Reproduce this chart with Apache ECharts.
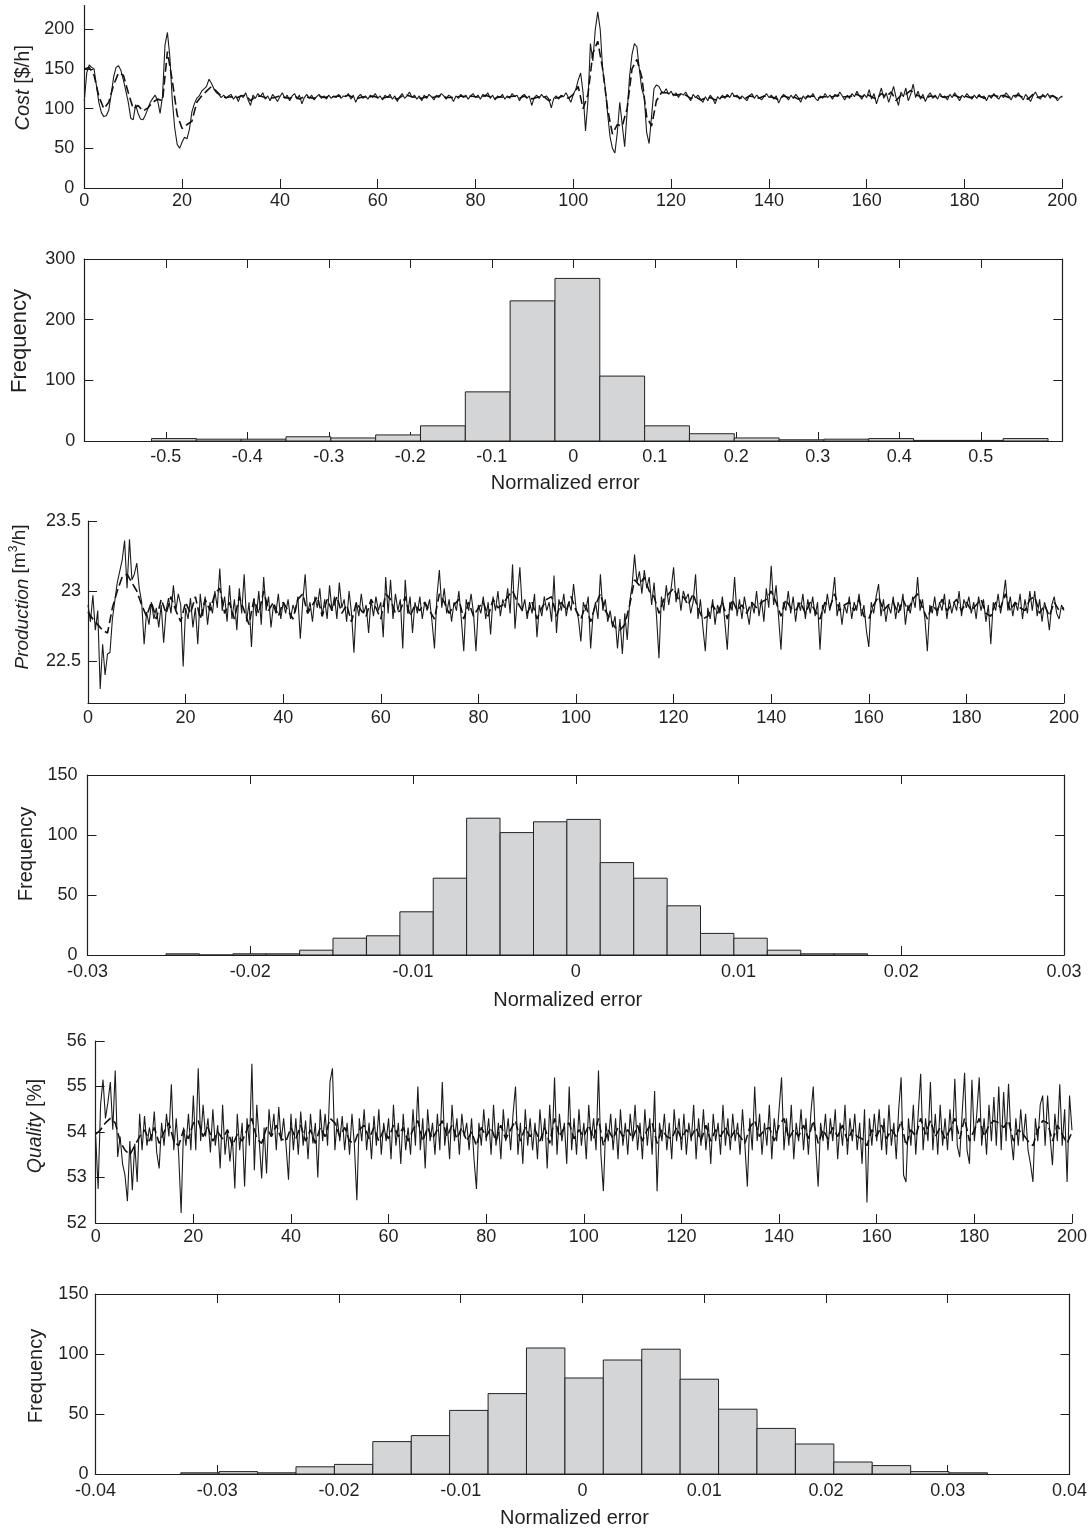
<!DOCTYPE html>
<html>
<head>
<meta charset="utf-8">
<script src="https://cdn.jsdelivr.net/npm/echarts@6/dist/echarts.min.js"></script>
<style>
html,body{margin:0;padding:0;background:#fff;}
#chart{width:1090px;height:1532px;}
</style>
</head>
<body>
<div id="chart"></div>
<script>
// ---------- time axis ----------
const timeTicks = [0, 20, 40, 60, 80, 100, 120, 140, 160, 180, 200];
const actualStep = 0.5;     // time step of measured series
const predictedStep = 1;    // time step of predicted (dashed) series

// ---------- Cost [$/h] ----------
const costActual = [
110,145,155,152,150,128,107,95,90,91,98,118,140,152,154,148,136,122,108,88,
86,105,94,87,86,92,100,108,113,117,110,94,116,180,196,165,110,75,55,50,
58,64,62,74,96,106,113,116,122,125,128,137,132,125,120,118,114,117,113,116,
118,112,116,109,117,114,120,111,104,117,113,119,115,120,112,116,110,118,114,109,
115,120,113,117,110,116,119,112,117,106,114,118,113,117,111,115,118,113,116,112,
117,113,116,114,118,113,116,115,119,112,117,108,115,118,113,116,112,117,114,119,
113,116,111,117,114,118,112,116,109,115,119,113,116,121,114,117,112,116,110,117,
113,118,115,111,117,114,119,116,112,117,115,109,116,113,118,114,117,112,116,119,
114,117,112,118,115,120,113,117,111,116,114,118,112,116,113,119,115,117,110,116,
118,113,116,104,114,117,113,118,114,116,112,101,113,116,112,117,115,120,114,108,
118,124,136,145,120,72,110,182,160,200,222,200,150,128,95,65,50,44,70,108,
80,52,95,140,168,182,178,150,125,115,70,56,90,125,130,128,122,120,125,118,
122,116,120,114,119,117,121,115,110,118,114,117,112,108,115,110,117,113,106,115,
112,117,113,118,114,120,115,117,112,116,113,110,116,119,113,117,114,111,115,119,
114,117,112,116,107,114,118,115,111,117,113,118,114,108,116,112,117,114,119,113,
110,116,113,119,114,117,112,118,115,121,116,111,117,113,119,115,122,116,112,118,
114,124,112,119,106,116,126,113,120,108,118,128,114,104,121,115,126,110,118,131,
114,122,112,118,109,116,120,113,117,112,119,114,116,111,118,114,120,115,110,117,
114,119,115,112,117,113,118,114,116,110,117,113,119,115,112,117,114,120,116,111,
117,114,120,115,111,118,114,109,116,121,115,112,118,114,119,113,117,115,110,114,116
];
const costPredicted = [
150,152,142,115,100,108,130,145,142,120,
100,104,97,101,108,112,110,172,135,92,
75,80,84,108,116,122,128,122,116,114,
115,113,116,117,110,115,116,114,113,114,
116,114,113,116,112,115,114,113,116,114,
115,115,116,115,117,114,113,115,114,116,
114,113,115,114,112,116,117,115,114,113,
115,114,115,117,114,114,114,116,115,116,
115,114,117,115,113,115,114,115,116,113,
116,112,113,115,115,110,113,114,116,113,
118,128,100,118,170,185,150,100,68,80,
78,100,150,162,140,90,78,110,120,120,
119,117,118,117,113,115,111,113,114,111,
114,115,116,116,114,112,116,115,113,116,
115,114,111,116,114,115,112,114,115,116,
113,115,115,115,117,115,115,116,118,115,
118,115,112,119,115,121,110,117,118,123,
118,115,113,116,115,116,114,116,117,114,
116,114,115,116,113,115,117,115,117,114,
116,117,114,112,118,114,116,116,116,113,115
];
const costTicks = [0, 50, 100, 150, 200];

// ---------- Cost normalized-error histogram ----------
const costErrCenters = [-0.49,-0.435,-0.38,-0.325,-0.27,-0.215,-0.16,-0.105,-0.05,0.005,0.06,0.115,0.17,0.225,0.28,0.335,0.39,0.445,0.5,0.555];
const costErrBinWidth = 0.055;
const costErrCounts = [4,3,3,7,5,10,25,81,231,268,107,25,12,5,2,3,4,1,1,4];

// ---------- Production [m3/h] ----------
const prodActual = [
22.90,22.78,22.97,22.72,22.86,22.30,22.62,22.40,22.55,22.56,22.80,22.93,23.06,23.14,23.22,23.36,23.02,23.37,23.08,23.12,
23.20,23.02,22.92,22.62,22.85,22.76,22.92,22.80,22.88,22.74,22.90,22.63,22.86,22.95,22.84,23.04,22.86,22.98,22.90,22.46,
22.88,22.80,22.95,22.74,22.88,22.62,22.98,22.82,22.96,22.76,22.92,22.84,23.00,22.88,23.16,22.86,22.96,22.78,23.04,22.80,
22.94,22.72,23.02,22.84,23.12,22.78,22.92,22.60,22.95,22.82,23.00,22.76,23.10,22.86,22.96,22.74,22.90,22.84,22.98,22.80,
22.92,22.84,22.94,22.80,22.90,22.85,22.96,22.66,22.92,23.12,22.84,22.92,22.78,22.96,22.88,23.02,22.82,22.94,22.80,23.04,
22.86,22.96,22.80,23.06,22.88,22.94,22.78,23.00,22.84,22.56,22.92,22.82,22.98,22.84,22.90,22.70,22.94,22.82,22.96,22.86,
22.92,22.67,23.10,22.84,23.08,22.80,22.98,22.86,22.94,22.59,23.08,22.84,22.96,22.70,22.92,22.84,22.96,22.80,22.92,22.86,
22.94,22.78,22.59,22.96,23.15,22.88,23.02,22.84,22.94,22.78,22.92,22.86,23.00,22.80,22.57,22.94,22.86,22.98,22.84,22.57,
22.90,22.84,22.96,22.80,22.92,22.69,22.96,22.86,23.00,22.82,22.94,22.88,23.02,22.84,23.19,22.73,22.96,23.17,22.86,22.94,
22.80,22.92,22.84,22.98,22.67,22.90,22.82,22.96,22.86,22.92,22.78,23.11,22.70,22.94,22.86,22.98,22.82,22.92,22.86,23.05,
22.88,22.80,22.64,22.92,22.86,22.96,22.59,22.84,22.92,22.80,23.12,22.86,22.94,22.78,22.86,22.74,22.82,22.59,22.80,22.55,
22.84,22.65,22.92,23.04,23.26,23.06,23.14,22.98,23.15,23.02,23.10,22.90,23.06,22.82,22.52,22.96,22.86,23.04,22.90,23.02,
23.17,22.92,23.02,22.86,23.00,22.94,22.98,22.84,22.92,23.12,22.80,22.94,22.74,22.57,22.88,22.80,22.94,22.76,22.90,22.84,
22.96,22.78,22.58,22.92,22.86,23.10,22.82,22.94,22.80,22.96,22.86,22.76,22.92,22.84,23.00,22.82,22.94,22.78,23.02,22.88,
23.18,22.90,23.04,22.82,22.58,22.92,22.86,23.00,22.84,22.96,22.78,22.92,22.86,22.98,22.80,22.94,22.84,22.96,22.82,22.92,
22.58,22.90,22.84,22.98,22.86,22.94,23.10,22.82,22.92,22.76,22.90,22.84,22.96,22.80,22.92,22.86,22.98,22.82,22.90,22.72,
22.60,22.92,22.84,22.96,23.05,22.82,22.94,22.78,22.90,22.84,22.96,22.80,22.92,22.86,22.98,22.76,22.90,22.84,22.96,22.88,
23.10,22.86,22.94,22.80,22.57,22.90,22.84,22.96,22.82,22.92,22.86,22.98,22.80,22.94,22.84,22.92,22.86,23.00,22.82,22.94,
22.88,22.96,22.84,22.92,22.80,22.96,22.86,22.94,22.78,22.90,22.62,22.92,22.86,22.98,22.84,22.94,23.08,22.86,22.96,22.82,
22.92,22.86,22.98,22.80,22.94,22.84,23.00,22.86,23.00,22.82,22.94,22.78,22.92,22.86,22.72,22.90,22.96,22.84,22.80,22.90,22.86
];
const prodPredicted = [
22.85,22.80,22.76,22.72,22.70,22.88,23.00,23.10,23.12,23.06,
23.00,22.90,22.82,22.92,22.80,22.94,22.84,22.96,22.86,22.78,
22.92,22.84,22.96,22.80,22.94,22.86,22.98,23.02,22.84,22.92,
22.80,22.96,22.86,22.76,22.94,22.84,23.00,22.86,22.92,22.82,
22.92,22.86,22.80,22.94,22.98,22.84,22.90,22.96,22.82,22.94,
22.86,22.96,22.84,22.90,22.78,22.92,22.86,22.82,22.94,22.88,
22.80,22.98,22.94,22.84,22.86,22.96,22.82,22.90,22.86,22.92,
22.86,22.80,22.98,22.92,22.84,22.90,22.94,22.80,22.92,22.82,
22.88,22.92,22.82,22.94,22.88,22.90,22.96,23.00,22.92,22.86,
22.84,22.92,22.80,22.88,22.94,22.96,22.82,22.92,22.86,22.96,
22.86,22.80,22.90,22.78,22.90,22.98,22.86,22.80,22.74,22.72,
22.76,22.90,23.08,23.04,23.10,23.00,22.96,22.84,22.94,22.98,
23.02,22.94,22.96,22.90,22.98,22.88,22.80,22.82,22.90,22.84,
22.92,22.80,22.94,22.86,22.90,22.84,22.92,22.88,22.92,22.94,
23.00,22.92,22.82,22.94,22.88,22.86,22.92,22.84,22.92,22.86,
22.80,22.92,22.88,22.98,22.86,22.90,22.92,22.86,22.94,22.82,
22.80,22.90,22.96,22.86,22.90,22.92,22.84,22.94,22.86,22.94,
22.98,22.88,22.80,22.90,22.86,22.94,22.86,22.90,22.94,22.86,
22.92,22.86,22.90,22.94,22.84,22.82,22.92,22.88,22.98,22.86,
22.92,22.88,22.86,22.94,22.96,22.84,22.90,22.82,22.92,22.86,22.88
];
const prodTicks = [22.5, 23, 23.5];

// ---------- Production normalized-error histogram ----------
const prodErrCenters = [-0.02415,-0.0221,-0.02004,-0.01799,-0.01594,-0.01389,-0.01183,-0.00978,-0.00773,-0.00568,-0.00362,-0.00157,0.00048,0.00253,0.00459,0.00664,0.00869,0.01074,0.0128,0.01485,0.0169];
const prodErrBinWidth = 0.002052;
const prodErrCounts = [1,0,1,1,4,14,16,36,64,114,102,111,113,77,64,41,18,14,4,1,1];

// ---------- Quality [%] ----------
const qualActual = [
53.90,52.75,54.60,55.15,54.30,54.65,55.10,54.05,55.35,53.45,53.90,53.30,53.05,52.48,53.80,52.72,53.74,52.90,54.40,53.60,
54.35,53.70,54.10,53.80,54.45,53.55,53.20,54.20,53.70,54.40,53.90,55.05,53.60,54.30,53.50,52.22,54.10,53.70,54.40,53.60,
54.80,53.60,55.40,53.80,54.60,53.90,54.30,53.55,54.50,53.70,54.15,53.20,54.60,53.50,54.05,53.35,53.90,52.76,54.40,53.60,
54.20,52.80,54.30,53.70,55.50,53.16,54.60,53.80,52.98,54.10,53.09,54.50,53.90,54.40,53.60,54.55,53.80,54.30,53.70,52.95,
54.40,53.60,54.30,53.50,54.45,53.70,54.25,53.40,54.40,53.75,54.20,53.00,54.50,53.80,54.40,53.70,55.10,55.40,53.60,54.30,
53.80,54.35,53.60,54.20,53.50,54.40,53.70,52.50,54.30,53.80,54.50,53.60,54.20,53.40,54.35,53.70,54.50,53.50,54.20,53.80,
54.30,53.40,54.60,53.70,54.20,53.30,54.40,53.60,54.10,53.50,54.50,53.70,55.00,53.60,54.30,53.20,54.50,53.80,54.20,53.50,
54.40,53.60,55.10,53.70,54.20,53.40,54.60,53.80,54.30,53.50,54.40,53.90,54.20,53.60,54.30,53.40,52.75,54.20,53.70,54.50,
53.80,54.30,53.50,54.60,53.70,54.20,53.40,54.50,53.80,54.30,53.60,54.40,55.00,53.50,54.20,53.30,54.50,53.70,54.30,53.60,
54.20,53.40,54.50,53.80,54.30,53.20,54.60,53.70,55.20,53.50,54.40,53.80,54.20,53.30,55.00,53.60,54.30,53.50,54.50,53.70,
54.20,53.40,54.60,53.80,54.30,53.60,55.35,53.50,52.70,54.20,53.80,54.40,53.60,54.30,53.40,54.50,53.70,54.20,53.50,54.40,
53.80,54.60,53.60,54.20,53.40,54.50,53.70,54.30,53.50,54.90,52.70,54.20,53.80,54.40,53.60,54.20,53.40,54.50,53.80,54.30,
53.60,54.40,53.50,54.20,53.80,54.60,53.40,54.30,53.70,54.50,53.60,54.20,53.30,54.40,53.80,54.20,53.50,54.60,53.70,54.30,
53.60,54.40,53.80,54.20,53.50,54.50,53.70,52.80,54.30,53.60,55.00,53.80,54.40,53.50,54.20,53.70,54.60,53.40,54.30,53.80,
54.50,55.20,53.60,54.30,53.70,54.60,53.40,54.20,53.80,54.50,53.60,54.30,53.50,54.40,55.00,53.70,52.80,54.20,53.80,54.40,
53.60,54.30,53.80,54.50,53.40,54.20,53.70,54.60,53.50,54.30,53.80,54.40,53.60,54.20,53.30,54.50,52.45,54.30,53.70,54.40,
53.80,54.50,53.60,54.30,53.50,54.60,53.70,54.20,53.40,54.50,55.20,53.05,52.90,54.30,53.70,54.60,53.50,54.40,55.28,53.60,
54.30,53.80,55.10,53.60,54.40,53.50,54.60,53.70,54.30,53.60,54.50,53.80,55.17,53.70,53.45,54.40,55.30,53.60,53.30,55.15,
53.80,54.40,55.20,53.70,54.30,53.50,54.60,53.80,54.77,53.70,55.00,53.60,54.88,53.80,55.06,53.90,53.38,54.30,53.70,54.50,
53.80,54.40,53.60,53.30,52.90,54.30,53.80,54.60,54.80,53.70,54.80,53.90,53.27,54.40,53.80,55.05,53.70,54.50,52.90,54.80,54.04
];
const qualPredicted = [
53.95,54.05,54.20,54.30,54.20,53.80,53.60,53.50,53.70,53.90,
54.05,53.80,54.10,53.75,54.00,54.20,53.80,53.70,54.05,53.85,
54.20,54.25,53.90,54.10,53.80,54.00,53.85,54.05,53.70,53.95,
53.80,54.05,54.30,53.85,53.75,54.10,53.90,54.15,53.85,53.80,
54.10,53.85,54.15,53.80,54.05,53.75,54.10,53.90,54.30,54.20,
53.90,54.10,53.80,53.75,54.05,54.15,53.85,54.10,53.80,54.05,
53.85,54.15,53.90,54.10,53.80,54.05,54.25,53.80,54.10,53.85,
54.05,54.25,53.90,54.15,53.85,54.10,53.80,54.00,53.70,54.10,
53.90,54.10,53.80,54.15,53.85,54.05,54.25,53.80,54.10,53.90,
54.05,53.80,54.10,53.75,54.30,53.90,54.10,54.20,53.85,54.05,
53.90,54.15,53.85,54.30,53.70,54.05,53.85,54.10,53.90,54.05,
53.85,54.15,53.80,54.05,54.20,53.75,54.05,53.90,53.85,54.10,
53.85,54.05,53.90,54.10,53.80,54.15,53.80,54.05,53.90,54.10,
53.85,54.05,53.90,53.75,54.10,54.25,53.90,54.05,54.10,53.80,
54.15,54.30,53.85,54.05,53.90,54.15,53.85,54.25,53.75,54.05,
53.85,54.10,53.90,54.15,53.80,54.05,53.90,53.85,53.70,54.05,
53.90,54.15,53.85,54.05,53.90,54.25,53.70,54.05,53.90,54.30,
53.95,54.25,53.90,54.10,53.85,54.05,54.30,53.85,54.30,53.80,
54.05,54.30,53.90,54.15,54.25,54.20,54.10,54.25,53.80,54.05,
53.95,53.80,53.70,54.05,54.25,54.20,53.80,54.15,53.95,53.75,54.00
];
const qualTicks = [52, 53, 54, 55, 56];

// ---------- Quality normalized-error histogram ----------
const qualErrCenters = [-0.03141,-0.02826,-0.0251,-0.02195,-0.01879,-0.01564,-0.01248,-0.00933,-0.00617,-0.00302,0.00014,0.00329,0.00645,0.0096,0.01276,0.01591,0.01907,0.02222,0.02538,0.02853,0.03169];
const qualErrBinWidth = 0.003155;
const qualErrCounts = [1,2,1,6,8,27,32,53,67,105,80,95,104,79,54,38,25,10,7,2,1];

// ================= chart =================
const FONT = '"Liberation Sans", Arial, Helvetica, sans-serif';
const INK = '#231f20';
const AXIS = '#1e1e1e';
const TICK_FONT = 18;

function toPairs(values, step) {
  return values.map(function (v, i) { return [Math.round(i * step * 100) / 100, v]; });
}

function axisCommon(extra) {
  return Object.assign({
    type: 'value',
    splitLine: { show: false },
    axisLine: { show: true, onZero: false, lineStyle: { color: AXIS, width: 1.2 } },
    axisTick: { show: true, inside: true, length: 9, lineStyle: { color: AXIS, width: 1 } },
  }, extra);
}

function labelStyle(margin, formatter) {
  const o = { show: true, color: INK, fontSize: TICK_FONT, fontFamily: FONT, margin: margin,
              showMinLabel: true, showMaxLabel: true };
  if (formatter) o.formatter = formatter;
  return o;
}

function yName(text, size, gap, shiftUp, rich) {
  return {
    name: text, nameLocation: 'middle', nameRotate: 90, nameGap: gap,
    nameTextStyle: {
      color: INK, fontSize: size, fontFamily: FONT,
      padding: [0, 0, 0, shiftUp * 2],
      rich: rich || {}
    }
  };
}

function xName(gap) {
  return {
    name: 'Normalized error', nameLocation: 'middle', nameGap: gap,
    nameTextStyle: { color: INK, fontSize: 20, fontFamily: FONT, padding: [0, 16, 0, 0] }
  };
}

const fmt1 = function (v) { const r = Math.round(v * 1000) / 1000; return Math.abs(r) > 0.55 ? '' : String(r); };
const fmt2 = function (v) { return String(Math.round(v * 1000) / 1000); };

const grids = [
  { left: 84.3, top: 5.5, width: 978, height: 182.5 },
  { left: 84.3, top: 259, width: 978, height: 182 },
  { left: 87, top: 521, width: 977, height: 182 },
  { left: 87.5, top: 775, width: 976.5, height: 180 },
  { left: 95.7, top: 1041, width: 977.6, height: 182 },
  { left: 95.4, top: 1294, width: 978.3, height: 180 }
];

const xAxes = [
  axisCommon({ gridIndex: 0, min: 0, max: 200, interval: 20, axisLabel: labelStyle(4) }),
  axisCommon(Object.assign({ gridIndex: 1, min: -0.6, max: 0.6, interval: 0.1, axisLabel: labelStyle(7, fmt1) }, xName(32))),
  axisCommon({ gridIndex: 2, min: 0, max: 200, interval: 20, axisLabel: labelStyle(6) }),
  axisCommon(Object.assign({ gridIndex: 3, min: -0.03, max: 0.03, interval: 0.01, axisLabel: labelStyle(8, fmt2) }, xName(35))),
  axisCommon({ gridIndex: 4, min: 0, max: 200, interval: 20, axisLabel: labelStyle(5) }),
  axisCommon(Object.assign({ gridIndex: 5, min: -0.04, max: 0.04, interval: 0.01, axisLabel: labelStyle(8, fmt2) }, xName(34))),
  // top edges of histogram boxes
  axisCommon({ gridIndex: 1, position: 'top', min: -0.6, max: 0.6, interval: 0.1, axisLabel: { show: false } }),
  axisCommon({ gridIndex: 3, position: 'top', min: -0.03, max: 0.03, interval: 0.01, axisLabel: { show: false } }),
  axisCommon({ gridIndex: 5, position: 'top', min: -0.04, max: 0.04, interval: 0.01, axisLabel: { show: false } })
];

const yAxes = [
  axisCommon(Object.assign({ gridIndex: 0, min: 0, max: 230,
    axisLabel: Object.assign(labelStyle(10), { customValues: costTicks }),
    axisTick: { show: true, inside: true, length: 9, customValues: costTicks, lineStyle: { color: AXIS } } },
    yName('{it|Cost} [$/h]', 20, 50, 9, { it: { fontStyle: 'italic', fontSize: 20, fontFamily: FONT, color: INK } }))),
  axisCommon(Object.assign({ gridIndex: 1, min: 0, max: 300, interval: 100, axisLabel: labelStyle(9) },
    yName('Frequency', 22, 53, 9))),
  axisCommon(Object.assign({ gridIndex: 2, min: 22.2, max: 23.5,
    axisLabel: Object.assign(labelStyle(7), { customValues: prodTicks }),
    axisTick: { show: true, inside: true, length: 9, customValues: prodTicks, lineStyle: { color: AXIS } } },
    yName('{it|Production} [m{sup|3}/h]', 19, 56, 15, {
      it: { fontStyle: 'italic', fontSize: 19, fontFamily: FONT, color: INK, lineHeight: 24, verticalAlign: 'bottom' },
      sup: { fontSize: 12, fontFamily: FONT, color: INK, lineHeight: 24, verticalAlign: 'top' }
    }))),
  axisCommon(Object.assign({ gridIndex: 3, min: 0, max: 150, interval: 50, axisLabel: labelStyle(10) },
    yName('Frequency', 20, 50, 11))),
  axisCommon(Object.assign({ gridIndex: 4, min: 52, max: 56, interval: 1, axisLabel: labelStyle(9) },
    yName('{it|Quality} [%]', 19.5, 50, 6, { it: { fontStyle: 'italic', fontSize: 19.5, fontFamily: FONT, color: INK } }))),
  axisCommon(Object.assign({ gridIndex: 5, min: 0, max: 150, interval: 50, axisLabel: labelStyle(7) },
    yName('Frequency', 20, 49, 8))),
  // right edges of histogram boxes
  axisCommon({ gridIndex: 1, position: 'right', min: 0, max: 300, interval: 100, axisLabel: { show: false } }),
  axisCommon({ gridIndex: 3, position: 'right', min: 0, max: 150, interval: 50, axisLabel: { show: false } }),
  axisCommon({ gridIndex: 5, position: 'right', min: 0, max: 150, interval: 50, axisLabel: { show: false } })
];

function lineSeries(idx, values, step, dashed) {
  return {
    type: 'line', xAxisIndex: idx, yAxisIndex: idx,
    data: toPairs(values, step),
    showSymbol: false, symbol: 'none', silent: true, animation: false,
    lineStyle: dashed ? { color: '#111', width: 1.6, type: [9, 4] } : { color: '#1c1c1c', width: 1.1 },
    z: dashed ? 3 : 2
  };
}

function histSeries(idx, centers, counts, width) {
  return {
    type: 'custom', xAxisIndex: idx, yAxisIndex: idx, silent: true, animation: false,
    encode: { x: 0, y: 1 },
    data: centers.map(function (c, i) { return [c, counts[i]]; }),
    renderItem: function (params, api) {
      const c = api.value(0), n = api.value(1);
      const p0 = api.coord([c - width / 2, 0]);
      const p1 = api.coord([c + width / 2, n]);
      return {
        type: 'rect',
        shape: { x: p0[0], y: p1[1], width: p1[0] - p0[0], height: p0[1] - p1[1] },
        style: { fill: '#d4d5d7', stroke: '#222', lineWidth: 1 }
      };
    }
  };
}

const chart = echarts.init(document.getElementById('chart'), null, { renderer: 'canvas' });
chart.setOption({
  backgroundColor: '#ffffff',
  animation: false,
  grid: grids,
  xAxis: xAxes,
  yAxis: yAxes,
  series: [
    lineSeries(0, costActual, actualStep, false),
    lineSeries(0, costPredicted, predictedStep, true),
    histSeries(1, costErrCenters, costErrCounts, costErrBinWidth),
    lineSeries(2, prodActual, actualStep, false),
    lineSeries(2, prodPredicted, predictedStep, true),
    histSeries(3, prodErrCenters, prodErrCounts, prodErrBinWidth),
    lineSeries(4, qualActual, actualStep, false),
    lineSeries(4, qualPredicted, predictedStep, true),
    histSeries(5, qualErrCenters, qualErrCounts, qualErrBinWidth)
  ]
});
</script>
</body>
</html>
